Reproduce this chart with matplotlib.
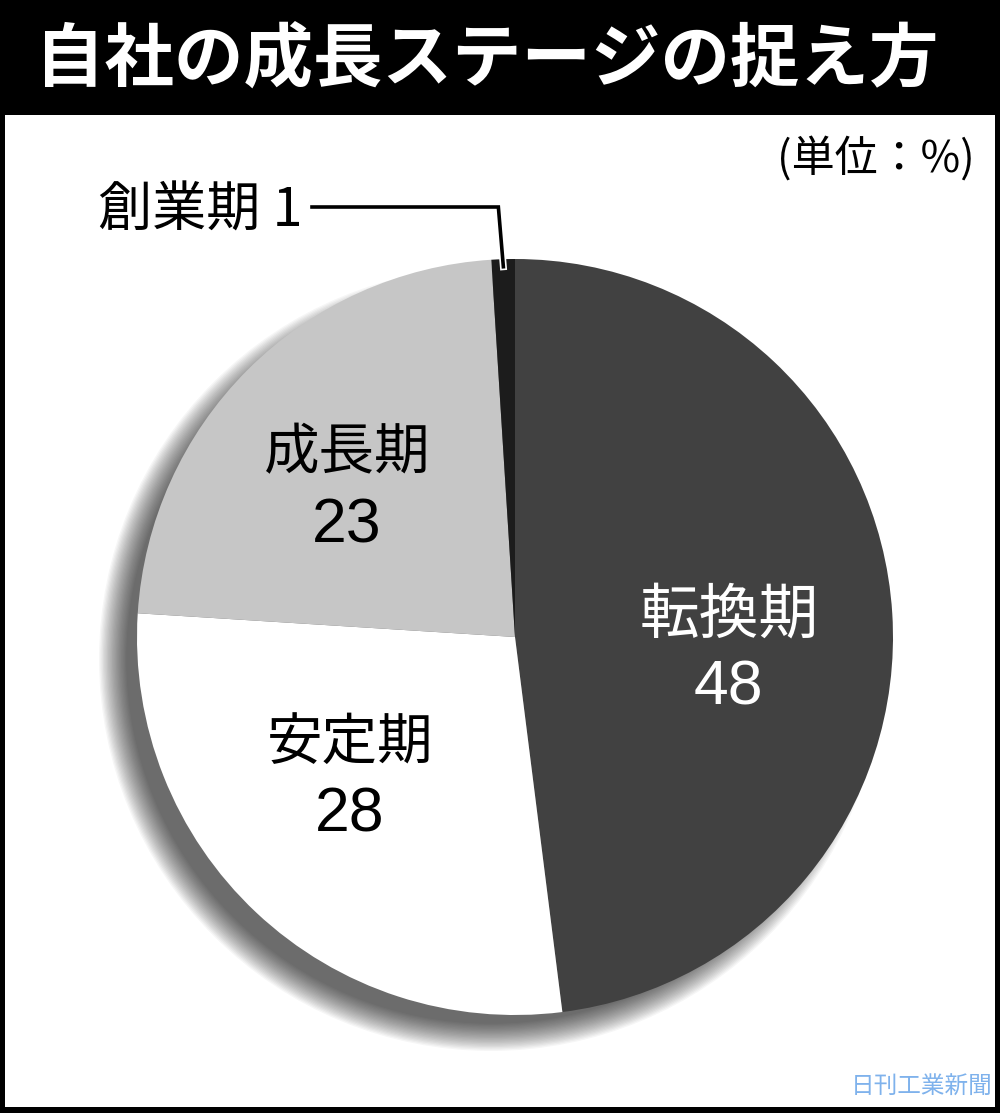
import numpy as np
import matplotlib
matplotlib.use("Agg")
import matplotlib.pyplot as plt
from matplotlib.patches import Rectangle, Circle
import matplotlib.patheffects as pe

plt.rcParams['font.family'] = ['Noto Sans CJK JP', 'DejaVu Sans']

# data
title = "自社の成長ステージの捉え方"
unit_label = "(単位：%)"
stages = ['転換期', '安定期', '成長期', '創業期']
shares = [48, 28, 23, 1]
slice_colors = ['#414141', '#ffffff', '#c6c6c6', '#1c1c1c']
text_colors = ['white', 'black', 'black', 'black']
credit = "日刊工業新聞"

# label nudges in pixels (dx, dy down) and name font size
nudges = [(-5, 29), (-15, -18), (-13, 8), (0, 0)]
name_sizes = [43, 40, 40, 39]

W, H = 1000, 1113
fig = plt.figure(figsize=(W / 100, H / 100), dpi=100)
fig.patch.set_facecolor('black')
ax = fig.add_axes([0, 0, 1, 1])
ax.set_facecolor('black')

# white panel under the title bar
ax.add_patch(Rectangle((5, 6), W - 10, H - 121, facecolor='white',
                       edgecolor='none', zorder=0))

cx, cy, R = 515, H - 637, 378

# soft shadow offset to lower-left
n = 22
for k in range(n):
    r = R + 14 - k * 1.3
    ax.add_patch(Circle((cx - 24, cy - 22), r, facecolor='black', edgecolor='none',
                        alpha=0.036, zorder=1))

wedges, _ = ax.pie(shares, colors=slice_colors, startangle=90, counterclock=False,
                   center=(cx, cy), radius=R, frame=True,
                   wedgeprops=dict(linewidth=0, zorder=2))
ax.set_xlim(0, W)
ax.set_ylim(0, H)
ax.set_aspect('equal')
ax.set_xticks([])
ax.set_yticks([])
for s in ax.spines.values():
    s.set_visible(False)

ax.text(W / 2 - 13, H - 60, title, color='white', fontsize=50, fontweight='bold',
        ha='center', va='center')
ax.text(975, H - 160, unit_label, color='black', fontsize=31, ha='right', va='center')

for w, name, val, tc, (dx, dy), fs in zip(wedges, stages, shares, text_colors, nudges, name_sizes):
    mid = np.deg2rad((w.theta1 + w.theta2) / 2)
    if val < 5:
        # small slice: leader line to outside label
        ex = cx + R * 0.98 * np.cos(mid)
        ey = cy + R * 0.98 * np.sin(mid)
        ly = H - 207
        lx = 312
        ax.plot([ex, ex - 5, lx], [ey, ly, ly], color='black', lw=2.6, zorder=4,
                solid_joinstyle='miter',
                path_effects=[pe.Stroke(linewidth=5, foreground='white'), pe.Normal()])
        ax.text(lx - 10, ly - 4, f"{name} {val}", fontsize=fs, ha='right', va='center',
                color='black', zorder=4)
    else:
        tx = cx + R * 0.58 * np.cos(mid) + dx
        ty = cy + R * 0.58 * np.sin(mid) - dy
        ax.text(tx, ty + 36, name, fontsize=fs, ha='center', va='center',
                color=tc, zorder=4)
        ax.text(tx, ty - 36, str(val), fontsize=45, ha='center', va='center',
                color=tc, zorder=4, family=['Liberation Sans', 'DejaVu Sans'])

ax.text(993, 14, credit, color='#7fb2ec', fontsize=17, ha='right', va='bottom', zorder=5)

fig.savefig("out.png", dpi=100, facecolor=fig.get_facecolor())
